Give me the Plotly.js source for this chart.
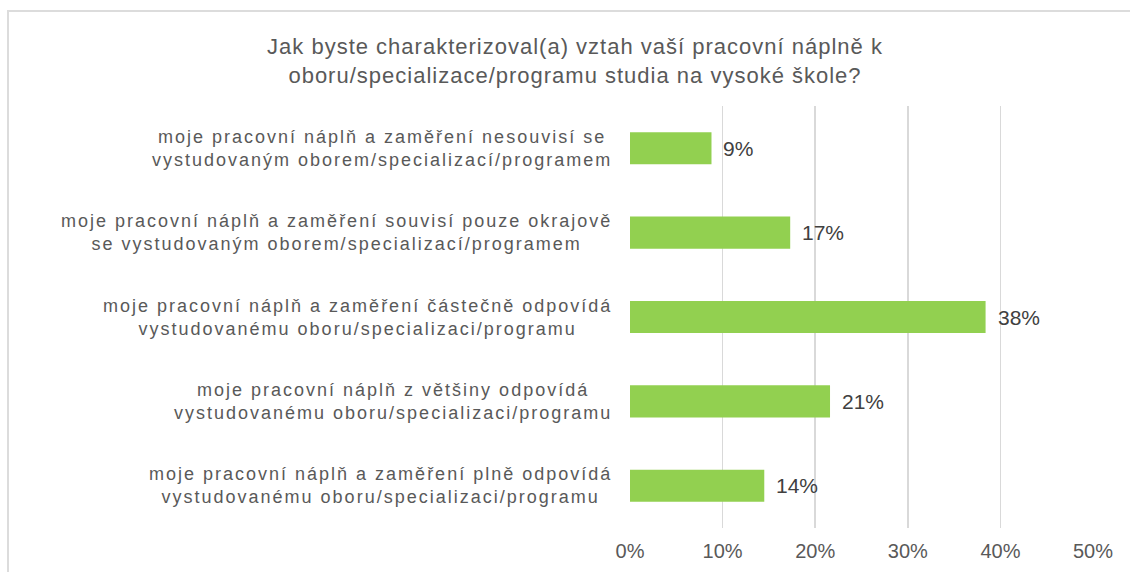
<!DOCTYPE html>
<html><head><meta charset="utf-8">
<script src="https://cdn.plot.ly/plotly-3.0.1.min.js"></script>
<style>
html,body{margin:0;padding:0;background:#fff;overflow:hidden;}
#frame{position:absolute;left:7px;top:10px;width:1300px;height:800px;border-left:2px solid #dcdcdc;border-top:2px solid #dcdcdc;}
#chart{position:absolute;left:0;top:0;width:1130px;height:572px;}
.gtitle{letter-spacing:1px;}
text.annotation-text[style*="font-size: 18px"]{letter-spacing:2px;}
</style></head><body>
<div id="frame"></div><div id="chart"></div>
<script>
const titleText = 'Jak byste charakterizoval(a) vztah vaší pracovní náplně k<br>oboru/specializace/programu studia na vysoké škole?';
const categories = [
  'moje pracovní náplň a zaměření nesouvisí se<br>vystudovaným oborem/specializací/programem',
  'moje pracovní náplň a zaměření souvisí pouze okrajově<br>se vystudovaným oborem/specializací/programem',
  'moje pracovní náplň a zaměření částečně odpovídá<br>vystudovanému oboru/specializaci/programu',
  'moje pracovní náplň z většiny odpovídá<br>vystudovanému oboru/specializaci/programu',
  'moje pracovní náplň a zaměření plně odpovídá<br>vystudovanému oboru/specializaci/programu'
];
const values = [8.8, 17.3, 38.4, 21.6, 14.5];
const valueLabels = ['9%', '17%', '38%', '21%', '14%'];
const xTickVals = [0, 10, 20, 30, 40, 50];
const xTickText = ['0%', '10%', '20%', '30%', '40%', '50%'];

const FONT = '"Liberation Sans", Arial, sans-serif';

const trace = {
  type: 'bar',
  orientation: 'h',
  x: values,
  y: categories,
  marker: {color: '#92D050', line: {width: 0}},
  hoverinfo: 'skip'
};

const annotations = [];
categories.forEach(function (c) {
  annotations.push({
    xref: 'paper', yref: 'y', x: 0, y: c,
    xanchor: 'right', yanchor: 'middle', xshift: -16,
    text: c, showarrow: false, align: 'center',
    font: {family: FONT, size: 18, color: '#595959'}
  });
});
values.forEach(function (v, i) {
  annotations.push({
    xref: 'x', yref: 'y', x: v, y: categories[i],
    xanchor: 'left', yanchor: 'middle', xshift: 10,
    text: valueLabels[i], showarrow: false,
    font: {family: FONT, size: 21, color: '#404040'}
  });
});

const layout = {
  width: 1130, height: 572,
  margin: {l: 630, r: 37, t: 106, b: 44, pad: 0},
  paper_bgcolor: 'rgba(0,0,0,0)',
  plot_bgcolor: 'rgba(0,0,0,0)',
  font: {family: FONT, color: '#595959'},
  title: {
    text: titleText,
    font: {family: FONT, size: 22, color: '#595959'},
    x: 575 / 1130, xref: 'container', xanchor: 'center',
    y: 1 - 54 / 572, yref: 'container', yanchor: 'top'
  },
  xaxis: {
    range: [0, 50], tickvals: xTickVals, ticktext: xTickText,
    showgrid: true, gridcolor: '#d9d9d9', gridwidth: 1.6,
    zeroline: false, showline: false, ticks: '',
    ticklabelstandoff: 9,
    tickfont: {family: FONT, size: 20, color: '#595959'},
    fixedrange: true
  },
  yaxis: {
    type: 'category', categoryorder: 'array', categoryarray: categories,
    range: [4.5, -0.5], showticklabels: false, showgrid: false,
    zeroline: false, showline: false, fixedrange: true
  },
  bargap: 0.62,
  showlegend: false,
  annotations: annotations
};

Plotly.newPlot('chart', [trace], layout, {displayModeBar: false, staticPlot: true});
</script>
</body></html>
